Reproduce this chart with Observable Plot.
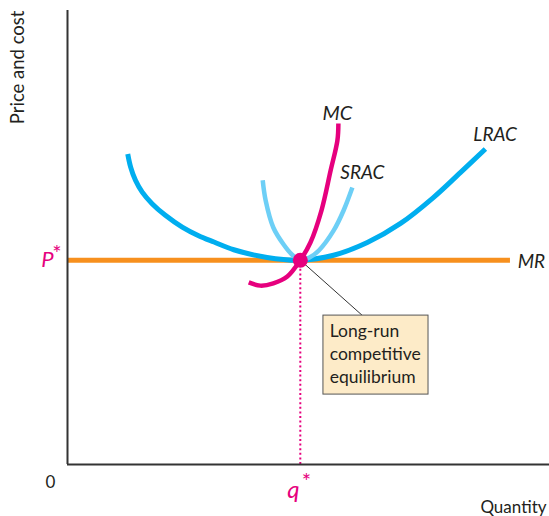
<!DOCTYPE html>
<html><head><meta charset="utf-8">
<script src="https://cdn.jsdelivr.net/npm/d3@7"></script>
<script src="https://cdn.jsdelivr.net/npm/@observablehq/plot@0.6"></script>
<style>body{margin:0;background:#fff}</style>
</head><body><div id="chart"></div>
<script>
// Equilibrium
const qStar = 48.3;
const pStar = 45;
const mrEnd = 91.9;

// Long-run average cost
const lracQ = [12.5, 13.1, 14.1, 15.5, 17.6, 20.3, 23.8, 27.2, 30.4, 34.5, 41.4, 48.3, 55.2, 62.2, 69.1, 75.9, 81.5, 86.7];
const lracP = [68.4, 65.5, 62.6, 60.0, 57.4, 54.9, 52.3, 50.4, 49.0, 47.3, 45.6, 45.0, 46.1, 48.9, 53.1, 58.8, 64.3, 69.5];

// Short-run average cost
const sracQ = [40.5, 41.1, 42.7, 44.8, 46.6, 48.3, 50.2, 52.2, 55.2, 57.3, 59.1];
const sracP = [62.6, 58.2, 52.2, 48.5, 46.2, 45.0, 45.6, 47.2, 51.5, 56.0, 61.0];

// Marginal cost
const mcQ = [37.6, 40.0, 42.7, 45.6, 48.3, 50.4, 52.7, 54.6, 56.0, 56.2];
const mcP = [40.1, 39.4, 39.9, 41.4, 45.0, 48.9, 56.0, 64.8, 71.4, 75.1];

const boxLines = ["Long-run", "competitive", "equilibrium"];
const boxLineP = [29.3, 24.2, 19.2];

const toPts = (qs, ps) => qs.map((q, i) => ({q, p: ps[i]}));
const lrac = toPts(lracQ, lracP);
const srac = toPts(sracQ, sracP);
const mc = toPts(mcQ, mcP);
const boxText = boxLines.map((t, i) => ({t, p: boxLineP[i]}));

const pink = "#e6007e";
const ink = "#231f20";
const font = "Lato, sans-serif";

const chart = Plot.plot({
  width: 549, height: 516,
  marginLeft: 67, marginRight: 0, marginTop: 10, marginBottom: 52,
  x: {domain: [0, 100], axis: null},
  y: {domain: [0, 100], axis: null},
  style: {fontFamily: font, background: "#fff", overflow: "visible"},
  marks: [
    Plot.ruleX([qStar], {y1: 0, y2: pStar, stroke: pink, strokeWidth: 2, strokeDasharray: "2,2.6"}),
    Plot.ruleY([pStar], {x1: 0, x2: mrEnd, stroke: "#f7901e", strokeWidth: 5}),
    Plot.line(lrac, {x: "q", y: "p", curve: "catmull-rom", stroke: "#00aeef", strokeWidth: 5, strokeLinecap: "butt"}),
    Plot.line(srac, {x: "q", y: "p", curve: "catmull-rom", stroke: "#6dcff6", strokeWidth: 4.5, strokeLinecap: "butt"}),
    Plot.line(mc, {x: "q", y: "p", curve: "catmull-rom", stroke: pink, strokeWidth: 4.5, strokeLinecap: "butt"}),
    Plot.link([0], {x1: qStar, y1: pStar, x2: 61.2, y2: 32.8, stroke: "#333", strokeWidth: 1}),
    Plot.rect([0], {x1: 53.1, x2: 74.9, y1: 15.4, y2: 32.8, fill: "#fdebc8", stroke: "#555", strokeWidth: 1}),
    Plot.text(boxText, {x: 54.4, y: "p", text: "t", textAnchor: "start", fill: ink, fontSize: 17.5, fontFamily: font}),
    Plot.dot([0], {x: qStar, y: pStar, r: 7.5, fill: pink}),
    Plot.ruleX([0], {y1: 0, y2: 100, stroke: "#333", strokeWidth: 2}),
    Plot.ruleY([0], {x1: 0, x2: 100, stroke: "#333", strokeWidth: 2}),
    // curve labels
    Plot.text(["MC"], {x: 56.0, y: 77.3, text: d => d, fontStyle: "italic", fontSize: 20, fill: ink}),
    Plot.text(["SRAC"], {x: 56.6, y: 64.3, text: d => d, textAnchor: "start", fontStyle: "italic", fontSize: 19, fill: ink}),
    Plot.text(["LRAC"], {x: 84.2, y: 72.5, text: d => d, textAnchor: "start", fontStyle: "italic", fontSize: 19, fill: ink}),
    Plot.text(["MR"], {x: 93.4, y: 44.6, text: d => d, textAnchor: "start", fontStyle: "italic", fontSize: 19, fill: ink}),
    // axis labels
    Plot.text(["P"], {x: 0, y: pStar, text: d => d, textAnchor: "end", dx: -14, fontStyle: "italic", fontSize: 22, fill: pink}),
    Plot.text(["*"], {x: 0, y: pStar, text: d => d, textAnchor: "end", dx: -6, dy: -6, fontSize: 22, fill: pink}),
    Plot.text(["q"], {x: qStar, y: 0, text: d => d, textAnchor: "middle", dx: -7, dy: 26, fontStyle: "italic", fontSize: 24, fill: pink}),
    Plot.text(["*"], {x: qStar, y: 0, text: d => d, textAnchor: "middle", dx: 6, dy: 17, fontSize: 22, fill: pink}),
    Plot.text(["0"], {x: 0, y: 0, text: d => d, dx: -17, dy: 18, fontSize: 17, fill: ink}),
    Plot.text(["Quantity"], {x: 100, y: 0, text: d => d, textAnchor: "end", dx: -3, dy: 43, fontSize: 17, fill: ink}),
    Plot.text(["Price and cost"], {x: 0, y: 100, text: d => d, textAnchor: "end", rotate: -90, dx: -49, dy: 0, fontSize: 18.5, fill: ink})
  ]
});
document.getElementById("chart").append(chart);
</script>
</body></html>
